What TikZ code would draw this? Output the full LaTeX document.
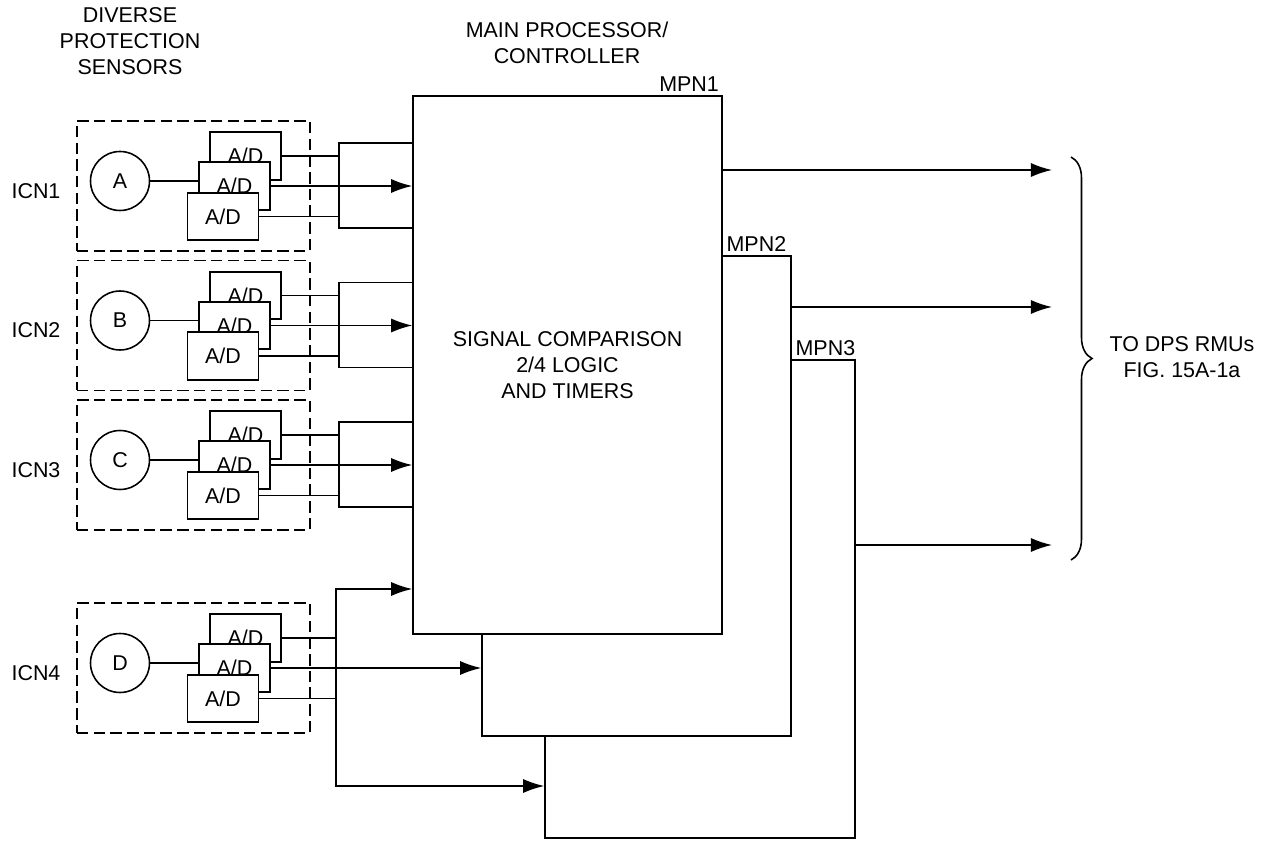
\documentclass[tikz,border=0pt]{standalone}
\usepackage{fontspec}
\setmainfont{Liberation Sans}
\usetikzlibrary{arrows.meta,decorations.pathreplacing}

\tikzset{
  wire/.style={line width=0.9pt},
  sig/.style={wire,-{Latex[length=12pt,width=8pt]}},
  adbox/.style={draw,line width=0.9pt,fill=white,minimum width=1.42cm,minimum height=0.95cm,inner sep=0pt},
  mpnbox/.style={draw,line width=0.9pt,fill=white,inner sep=0pt,align=center},
  icnbox/.style={draw,line width=0.9pt,dash pattern=on 6.5pt off 3pt,minimum width=4.66cm,minimum height=2.6cm,inner sep=0pt},
  sensor/.style={draw,circle,line width=0.9pt,minimum size=1.18cm,inner sep=0pt},
  lbl/.style={align=center,inner sep=0pt}
}

\begin{document}
\begin{tikzpicture}[x=0.02cm,y=-0.02cm,font=\fontsize{12.2}{15}\selectfont]
\useasboundingbox (0,0) rectangle (1269,841);

% headings
\node[lbl] (dps) at (130,41) {DIVERSE\\PROTECTION\\SENSORS};
\node[lbl] (mpc) at (567,43) {MAIN PROCESSOR/\\CONTROLLER};

% sensor groups
\foreach \s/\oy/\n in {A/0/1,B/139.5/2,C/279/3,D/482/4}{
  \node[icnbox] (icn\s) at (193.5,186+\oy) {};
  \node (icnlbl\s) at (36,191+\oy) {ICN\n};
  \node[sensor] (sen\s) at (120,181+\oy) {\s};
  \node[adbox] (ad\s1) at (245.5,156+\oy) {A/D};
  \node[adbox] (ad\s2) at (234.5,186+\oy) {A/D};
  \node[adbox] (ad\s3) at (223,216.5+\oy) {A/D};
  \draw[wire] (sen\s.east) -- (sen\s.east -| ad\s2.west);
}

% processors
\node[mpnbox,minimum width=6.2cm,minimum height=9.56cm] (mpn3) at (700,599) {};
\node[mpnbox,minimum width=6.18cm,minimum height=9.6cm] (mpn2) at (636.5,496) {};
\node[mpnbox,minimum width=6.18cm,minimum height=10.76cm] (mpn1) at (567.5,365) {SIGNAL COMPARISON\\2/4 LOGIC\\AND TIMERS};
\node[anchor=south east,inner sep=2pt] (mpn1lbl) at (mpn1.north east) {MPN1};
\node[anchor=south west,inner sep=2pt] (mpn2lbl) at (mpn1.east |- mpn2.north) {MPN2};
\node[anchor=south west,inner sep=2pt] (mpn3lbl) at (mpn2.east |- mpn3.north) {MPN3};

% ICN1-3 wiring
\foreach \s/\oy in {A/0,B/139.5,C/279}{
  \coordinate (bt\s) at (339,143+\oy);
  \coordinate (bb\s) at (339,228+\oy);
  \draw[wire] (bt\s -| mpn1.west) -- (bt\s) -- (bb\s) -- (bb\s -| mpn1.west);
  \draw[wire] (ad\s1.east) -- (ad\s1.east -| bt\s);
  \draw[wire] (ad\s3.east) -- (ad\s3.east -| bt\s);
  \draw[sig] (ad\s2.east) -- (ad\s2.east -| mpn1.west);
}

% ICN4 wiring
\coordinate (btD) at (336,589);
\coordinate (bbD) at (336,786);
\draw[sig] (bbD) -- (btD) -- (btD -| mpn1.west);
\draw[sig] (btD) -- (bbD) -- (bbD -| mpn3.west);
\draw[wire] (adD1.east) -- (adD1.east -| btD);
\draw[wire] (adD3.east) -- (adD3.east -| btD);
\draw[sig] (adD2.east) -- (adD2.east -| mpn2.west);

% outputs
\coordinate (rmu1) at (1052,170);
\coordinate (rmu2) at (1052,307);
\coordinate (rmu3) at (1052,545);
\draw[sig] (rmu1 -| mpn1.east) -- (rmu1);
\draw[sig] (rmu2 -| mpn2.east) -- (rmu2);
\draw[sig] (rmu3 -| mpn3.east) -- (rmu3);

\coordinate (brtop) at (1071,157);
\coordinate (brbot) at (1071,560);
\draw[wire,decorate,decoration={brace,amplitude=0.42cm}] (brtop) -- (brbot);
\node[lbl] (rmu) at (1182,357) {TO DPS RMUs\\FIG. 15A-1a};
\end{tikzpicture}
\end{document}
